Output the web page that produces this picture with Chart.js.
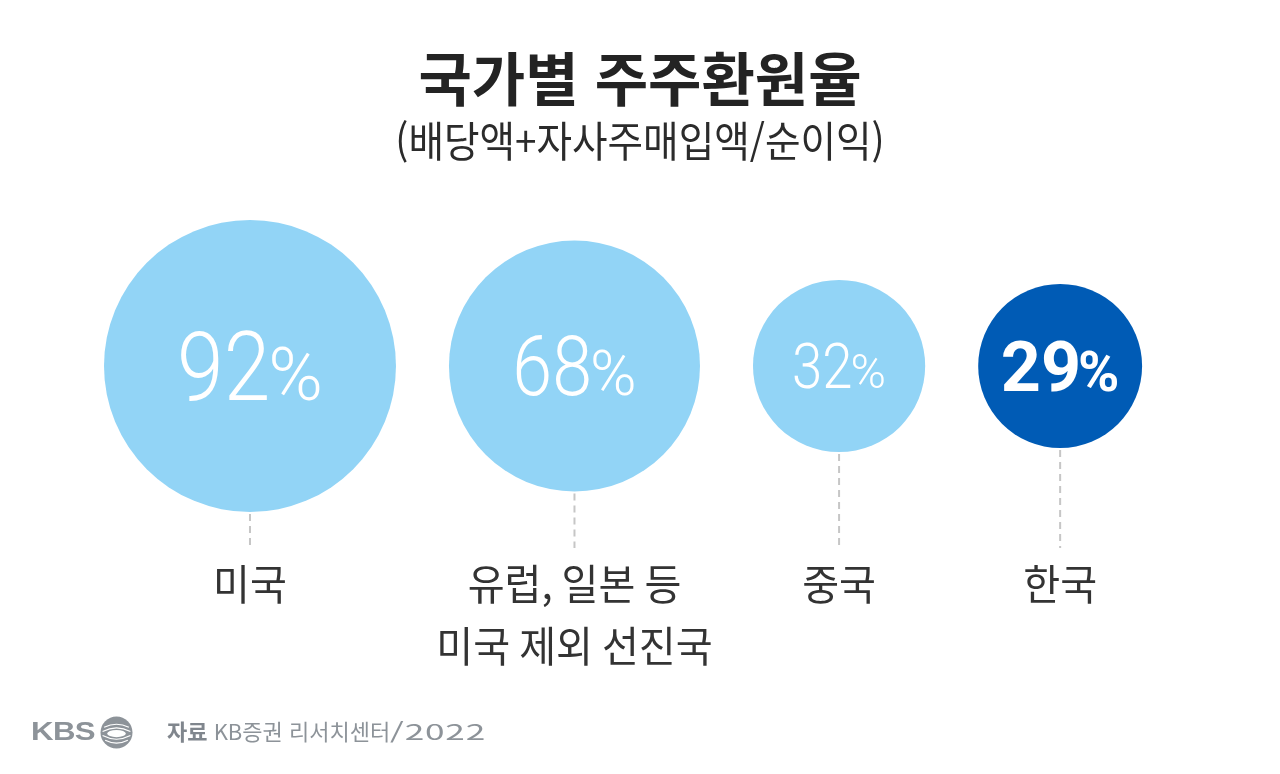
<!DOCTYPE html>
<html lang="ko">
<head>
<meta charset="utf-8">
<title>국가별 주주환원율</title>
<script src="https://cdn.jsdelivr.net/npm/chart.js@4.4.1/dist/chart.umd.min.js"></script>
<style>
  body { margin: 0; background: #fff; }
  #wrap { position: relative; width: 1280px; height: 774px; overflow: hidden; }
  #wrap canvas { position: absolute; left: 0; top: 0; }
  .title {
    position: absolute; left: 0; width: 1280px; top: 47px; text-align: center;
    font: 700 58px/58px "Noto Sans CJK KR"; color: #232323;
  }
  .subtitle {
    position: absolute; left: 0; width: 1280px; top: 118px; text-align: center;
    font: 400 42px/42px "Noto Sans CJK KR"; color: #2b2b2b;
    transform: scaleX(0.92);
  }
  .footer {
    position: absolute; left: 167px; top: 719px;
    font: 400 22px/22px "Noto Sans CJK KR"; color: #8d9399; white-space: nowrap;
  }
  .footer b { font-weight: 700; color: #80868d; }
  .footer .wide {
    display: inline-block; letter-spacing: 0.5px;
    transform: scaleX(1.6); transform-origin: left center;
  }
  .kbs {
    position: absolute; left: 31px; top: 718px;
    font: 700 26px/26px "Liberation Sans", Arial, sans-serif; color: #8d9399;
    letter-spacing: -0.5px; transform: scaleX(1.2); transform-origin: left center;
  }
  .kbs-logo { position: absolute; left: 100px; top: 716px; }
</style>
</head>
<body>
<div id="wrap">
  <canvas id="bubbles"></canvas>
  <div class="title">국가별 주주환원율</div>
  <div class="subtitle">(배당액+자사주매입액/순이익)</div>
  <div class="kbs">KBS</div>
  <svg class="kbs-logo" width="33" height="33" viewBox="0 0 32 32">
    <circle cx="16" cy="16" r="15.5" fill="#8d9399"/>
    <path d="M4 11 Q16 5 28 11" stroke="#fff" stroke-width="1.1" fill="none"/>
    <path d="M2.5 15 Q16 8 29.5 15" stroke="#fff" stroke-width="1.1" fill="none"/>
    <path d="M2.5 19 Q16 26 29.5 19" stroke="#fff" stroke-width="1.1" fill="none"/>
    <path d="M5 23.5 Q16 29 27 23.5" stroke="#fff" stroke-width="1.1" fill="none"/>
    <ellipse cx="16" cy="17" rx="9" ry="3.5" fill="#fff"/>
  </svg>
  <div class="footer"><b>자료</b> KB증권 리서치센터<span class="wide">/2022</span></div>
</div>

<script>
/** 국가별 주주환원율 BUBBLE CHART **/

var categories = [["미국"], ["유럽, 일본 등", "미국 제외 선진국"], ["중국"], ["한국"]];
var returnRates = [92, 68, 32, 29];

// styles
var bubbleColors = ['#92d4f6', '#92d4f6', '#92d4f6', '#005bb5'];
var valueFontSizes = [97, 83, 63, 70];
var valueBold = [false, false, false, true];
var radiusPerRoot = 15.22;   // bubble area proportional to value
var firstEdge = 104;
var bubbleGap = 53;
var canvasWidth = 1280;

var radii = returnRates.map(function (v) { return radiusPerRoot * Math.sqrt(v); });
var maxRadius = Math.max.apply(null, radii);
var centers = [];
var edge = firstEdge;
radii.forEach(function (r) {
    centers.push(edge + r);
    edge += 2 * r + bubbleGap;
});

var bubbleData = returnRates.map(function (v, i) {
    return { x: centers[i], y: 0, r: radii[i] };
});

var bubbleLabels = {
    id: 'bubbleLabels',
    afterDatasetsDraw: function (chart) {
        var ctx = chart.ctx;
        var area = chart.chartArea;
        var meta = chart.getDatasetMeta(0);
        meta.data.forEach(function (pt, i) {
            var r = pt.options.radius;

            // dashed leader line
            ctx.save();
            ctx.strokeStyle = '#c6c6c6';
            ctx.lineWidth = 2;
            ctx.setLineDash([7, 5]);
            ctx.beginPath();
            ctx.moveTo(pt.x, pt.y + r + 2);
            ctx.lineTo(pt.x, area.bottom + 16);
            ctx.stroke();
            ctx.restore();

            // value inside bubble
            var size = valueFontSizes[i];
            var bold = valueBold[i];
            var weight = bold ? '700' : '300';
            var sx = bold ? 1 : 0.865;
            var numFont = weight + ' ' + size + 'px Roboto';
            var pctFont = weight + ' ' + Math.round(size * (bold ? 0.8 : 0.76)) + 'px Roboto';
            var num = String(returnRates[i]);
            ctx.save();
            ctx.fillStyle = '#ffffff';
            ctx.textBaseline = 'alphabetic';
            ctx.textAlign = 'left';
            ctx.font = numFont;
            var wNum = ctx.measureText(num).width * sx;
            ctx.font = pctFont;
            var wPct = ctx.measureText('%').width;
            var gap = bold ? -3 : -2;
            var total = wNum + gap + wPct;
            var left = pt.x - total / 2;
            var base = pt.y + size * 0.355;
            ctx.save();
            ctx.translate(left, base);
            ctx.scale(sx, 1);
            ctx.font = numFont;
            ctx.fillText(num, 0, 0);
            ctx.restore();
            ctx.font = pctFont;
            ctx.fillText('%', left + wNum + gap, base);
            ctx.restore();

            // category label
            ctx.save();
            ctx.fillStyle = '#333333';
            ctx.font = '400 42px "Noto Sans CJK KR"';
            ctx.textAlign = 'center';
            ctx.textBaseline = 'alphabetic';
            categories[i].forEach(function (line, j) {
                ctx.save();
                ctx.translate(pt.x, area.bottom + 68 + j * 62);
                ctx.scale(0.955, 1);
                ctx.fillText(line, 0, 0);
                ctx.restore();
            });
            ctx.restore();
        });
    }
};

var chartEl = document.getElementById('bubbles');
chartEl.width = 1280;
chartEl.height = 774;

var returnChart = new Chart(chartEl, {
    type: 'bubble',
    data: {
        datasets: [{
            label: '주주환원율',
            data: bubbleData,
            backgroundColor: bubbleColors,
            borderWidth: 0,
            hoverBorderWidth: 0,
            hoverRadius: 0,
            clip: false
        }]
    },
    options: {
        responsive: false,
        animation: false,
        events: [],
        layout: { padding: { top: 200, bottom: 242, left: 0, right: 0 } },
        scales: {
            // bubble layout reserves maxRadius on each side
            x: { type: 'linear', min: maxRadius, max: canvasWidth - maxRadius, display: false },
            y: { type: 'linear', min: -1, max: 1, display: false }
        },
        plugins: {
            legend: { display: false }, //hide legend
            tooltip: { enabled: false }
        }
    },
    plugins: [bubbleLabels]
});
</script>
</body>
</html>
